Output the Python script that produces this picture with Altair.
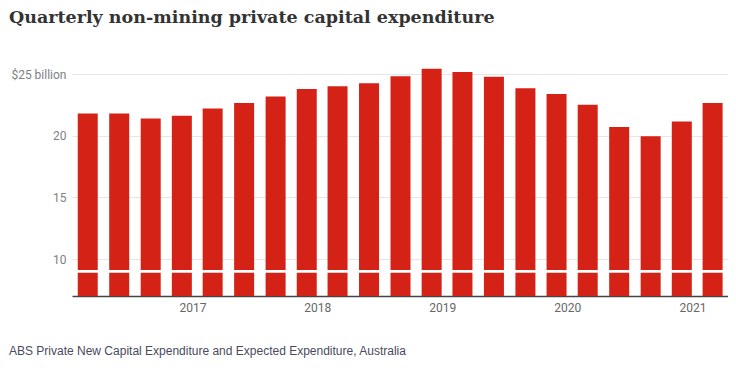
import altair as alt
import pandas as pd

# Quarter (month the quarter ends) and non-mining private capex, $ billion
quarters = [
    "2016-03-01", "2016-06-01", "2016-09-01", "2016-12-01",
    "2017-03-01", "2017-06-01", "2017-09-01", "2017-12-01",
    "2018-03-01", "2018-06-01", "2018-09-01", "2018-12-01",
    "2019-03-01", "2019-06-01", "2019-09-01", "2019-12-01",
    "2020-03-01", "2020-06-01", "2020-09-01", "2020-12-01",
    "2021-03-01",
]
capex = [
    21.81, 21.81, 21.41, 21.63,
    22.22, 22.68, 23.19, 23.81,
    24.03, 24.27, 24.84, 25.46,
    25.19, 24.81, 23.86, 23.41,
    22.52, 20.73, 19.97, 21.16,
    22.68,
]
y_ticks = [10, 15, 20, 25]
y_min, y_max = 7, 26
axis_break = 9

title_text = "Quarterly non-mining private capital expenditure"
source_text = "ABS Private New Capital Expenditure and Expected Expenditure, Australia"

df = pd.DataFrame({"quarter": quarters, "capex": capex})

x_scale = alt.Scale(
    domain=[alt.DateTime(year=2016, month=1, date=15),
            alt.DateTime(year=2021, month=4, date=15)],
    nice=False,
    padding=0,
)

bars = alt.Chart(df).mark_bar(size=20, color="#d42217", clip=True).encode(
    x=alt.X(
        "quarter:T",
        scale=x_scale,
        title=None,
        axis=alt.Axis(
            format="%Y",
            tickCount={"interval": "year", "step": 1},
            ticks=False,
            grid=False,
            labelPadding=6,
            labelFont="Roboto",
            labelFontSize=12,
            labelColor="#666666",
            labelFlush=False,
            domainColor="#444444",
            domainWidth=1.5,
        ),
    ),
    y=alt.Y(
        "capex:Q",
        scale=alt.Scale(domain=[y_min, y_max], zero=False, nice=False),
        title=None,
        axis=alt.Axis(
            values=y_ticks,
            domain=False,
            ticks=False,
            gridColor="#e6e6e6",
            gridWidth=1,
            labelPadding=6,
            labelFont="Roboto",
            labelFontSize=12,
            labelColor="#808080",
            labelExpr="datum.value == 25 ? '$25 billion' : datum.label",
        ),
    ),
)

break_rule = alt.Chart(pd.DataFrame({"b": [axis_break]})).mark_rule(
    color="white", strokeWidth=2.7
).encode(y="b:Q")

footer = alt.Chart(pd.DataFrame({"t": [source_text]})).mark_text(
    align="left", baseline="alphabetic", font="Liberation Sans",
    fontSize=12, color="#4a4a5e"
).encode(text="t:N", x=alt.value(-63), y=alt.value(293))

chart = alt.layer(bars, break_rule, footer).properties(
    width=656,
    height=234,
    autosize=alt.AutoSizeParams(type="none"),
    padding={"left": 64, "top": 54, "right": 0, "bottom": 62},
    title=alt.TitleParams(
        title_text,
        anchor="start",
        frame="group",
        dx=-63,
        offset=36,
        font="DejaVu Serif",
        fontWeight="bold",
        fontSize=17.5,
        color="#333333",
    ),
).configure_view(stroke=None)

chart.save("out.html", embed_options={"renderer": "svg", "actions": False})
